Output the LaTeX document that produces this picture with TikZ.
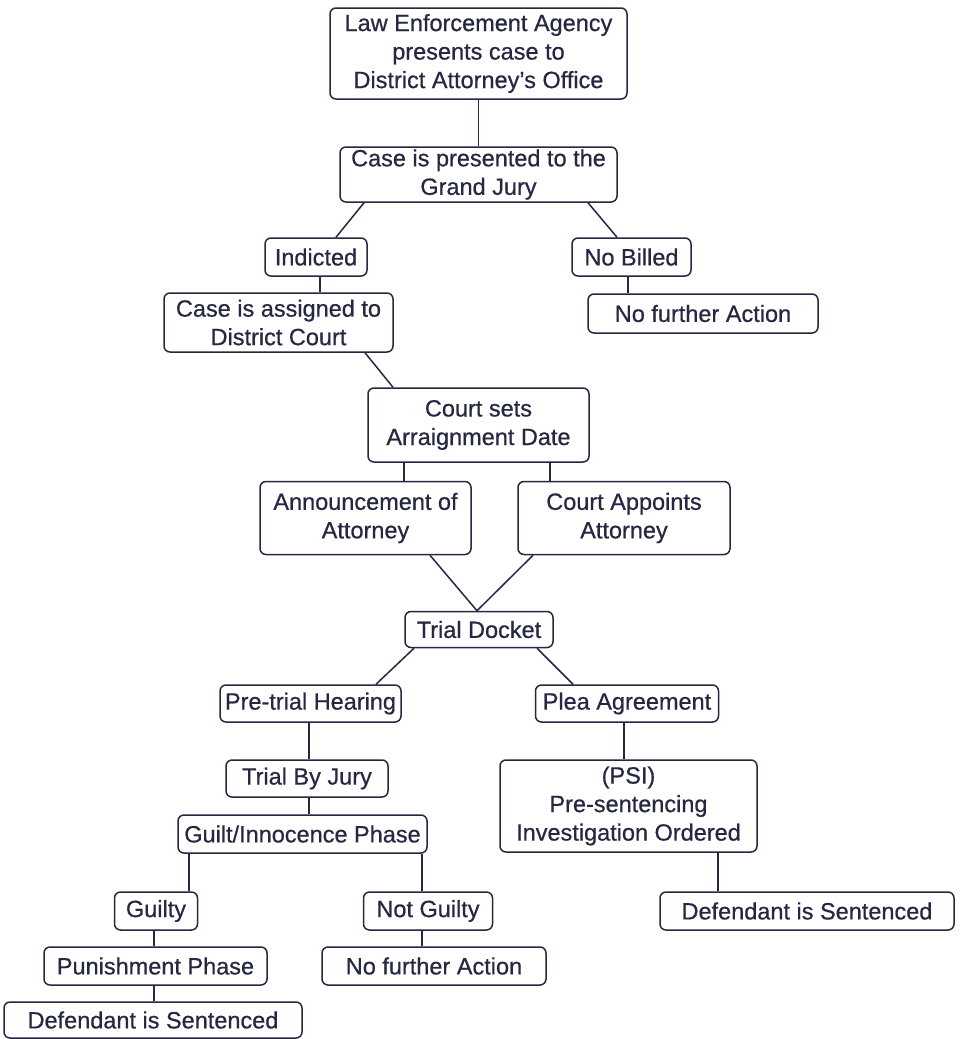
\documentclass[tikz,border=0pt]{standalone}
\usepackage{fontspec}
\setmainfont{Liberation Sans}[FakeBold=0.6]
\definecolor{ink}{HTML}{262842}
\begin{document}
\begin{tikzpicture}[x=1pt,y=-1pt,
  box/.style={draw=ink, line width=1.5pt, rounded corners=6pt, align=center,
    inner sep=0pt, text=ink, font=\fontsize{23.5}{28.5}\selectfont},
  link/.style={draw=ink, line width=1.5pt}]
\useasboundingbox[fill=white] (0,0) rectangle (961,1039);
\node[box, minimum width=297pt, minimum height=91pt] (le) at (478.5,53.5) {Law Enforcement Agency\\presents case to\\District Attorney's Office};
\node[box, minimum width=277pt, minimum height=55pt] (gj) at (478.5,174.5) {Case is presented to the\\Grand Jury};
\node[box, minimum width=102pt, minimum height=38pt] (ind) at (316,257) {Indicted};
\node[box, minimum width=119pt, minimum height=38pt] (nb) at (631.5,257) {No Billed};
\node[box, minimum width=229pt, minimum height=59pt] (ca) at (278.5,322.5) {Case is assigned to\\District Court};
\node[box, minimum width=230pt, minimum height=39pt] (nfa1) at (703,313.5) {No further Action};
\node[box, minimum width=221pt, minimum height=74pt] (cs) at (478.5,425) {Court sets\\Arraignment Date};
\node[box, minimum width=211pt, minimum height=73pt] (ann) at (365.5,518) {Announcement of\\Attorney};
\node[box, minimum width=212pt, minimum height=73pt] (cap) at (624,518) {Court Appoints\\Attorney};
\node[box, minimum width=148pt, minimum height=36pt] (td) at (479,629.5) {Trial Docket};
\node[box, minimum width=181pt, minimum height=37pt] (pth) at (310.5,703.5) {Pre-trial Hearing};
\node[box, minimum width=183pt, minimum height=37pt] (plea) at (627,703.5) {Plea Agreement};
\node[box, minimum width=162pt, minimum height=37pt] (tbj) at (307,778.5) {Trial By Jury};
\node[box, minimum width=257pt, minimum height=92pt] (psi) at (628.5,806) {(PSI)\\Pre-sentencing\\Investigation Ordered};
\node[box, minimum width=249pt, minimum height=38pt] (gip) at (302.5,834) {Guilt/Innocence Phase};
\node[box, minimum width=83pt, minimum height=38pt] (gty) at (156,911) {Guilty};
\node[box, minimum width=129pt, minimum height=38pt] (ngty) at (428,911) {Not Guilty};
\node[box, minimum width=294pt, minimum height=38pt] (dsr) at (807,911) {Defendant is Sentenced};
\node[box, minimum width=223pt, minimum height=38pt] (pun) at (155.5,966) {Punishment Phase};
\node[box, minimum width=224pt, minimum height=38pt] (nfa2) at (434,966) {No further Action};
\node[box, minimum width=298pt, minimum height=36pt] (dsl) at (153,1020) {Defendant is Sentenced};
% connectors
\draw[link] (le.south) -- (gj.north);
\draw[link] (gj.south -| 364,0) -- (ind.north -| 336,0);
\draw[link] (gj.south -| 588,0) -- (nb.north -| 617,0);
\draw[link] (ind.south -| 320,0) -- (ca.north -| 320,0);
\draw[link] (nb.south -| 628,0) -- (nfa1.north -| 628,0);
\draw[link] (ca.south -| 365,0) -- (cs.north -| 393,0);
\draw[link] (cs.south -| 404,0) -- (ann.north -| 404,0);
\draw[link] (cs.south -| 550,0) -- (cap.north -| 550,0);
\draw[link] (ann.south -| 430,0) -- (td.north -| 477,0);
\draw[link] (cap.south -| 533,0) -- (td.north -| 477,0);
\draw[link] (td.south -| 414,0) -- (pth.north -| 376,0);
\draw[link] (td.south -| 537,0) -- (plea.north -| 573,0);
\draw[link] (pth.south -| 309,0) -- (tbj.north -| 309,0);
\draw[link] (plea.south -| 624,0) -- (psi.north -| 624,0);
\draw[link] (tbj.south -| 309,0) -- (gip.north -| 309,0);
\draw[link] (gip.south -| 189,0) -- (gty.north -| 189,0);
\draw[link] (gip.south -| 422,0) -- (ngty.north -| 422,0);
\draw[link] (psi.south -| 718,0) -- (dsr.north -| 718,0);
\draw[link] (gty.south -| 154,0) -- (pun.north -| 154,0);
\draw[link] (ngty.south -| 422,0) -- (nfa2.north -| 422,0);
\draw[link] (pun.south -| 154,0) -- (dsl.north -| 154,0);
\end{tikzpicture}
\end{document}
